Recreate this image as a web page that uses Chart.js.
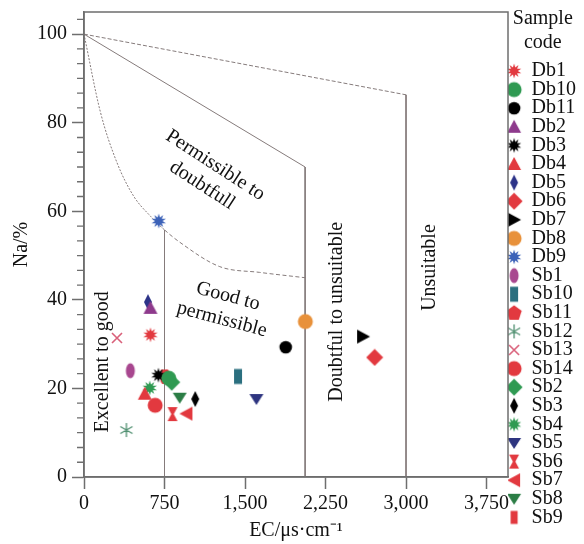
<!DOCTYPE html>
<html>
<head>
<meta charset="utf-8">
<script src="https://cdn.jsdelivr.net/npm/chart.js@4.4.1/dist/chart.umd.min.js"></script>
<style>
html,body{margin:0;padding:0;background:#fff;}
#wrap{width:584px;height:544px;}
</style>
</head>
<body>
<div id="wrap"><canvas id="myChart"></canvas></div>
<script>
// 샘플 코드 / EC(µs/cm) / Na(%)
const sampleCodes = ['Db1','Db10','Db11','Db2','Db3','Db4','Db5','Db6','Db7','Db8','Db9',
  'Sb1','Sb10','Sb11','Sb12','Sb13','Sb14','Sb2','Sb3','Sb4','Sb5','Sb6','Sb7','Sb8','Sb9'];
const ecValues = [619, 790, 1879, 619, 693, 566, 596, 2708, 2600, 2062, 696,
  432, 1435, 770, 395, 307, 663, 817, 1036, 612, 1606, 825, 954, 892, 750];
const naValues = [32.1, 22.3, 29.3, 38.2, 23.0, 18.8, 39.5, 27.0, 31.7, 35.1, 57.8,
  24.0, 22.7, 22.6, 10.6, 31.4, 16.2, 21.4, 17.6, 20.1, 17.6, 14.2, 14.3, 17.9, 22.8];

// Wilcox 경계선
const topLineX = [0, 3000, 3000];
const topLineY = [100, 86.3, 0];
const midLineX = [0, 2060, 2060];
const midLineY = [100, 70, 0];
const curveX = [0, 153, 307, 463, 619, 750, 893, 1265, 1637, 2060];
const curveY = [100, 82.4, 71, 63.4, 58.9, 55.8, 53, 47.5, 46.2, 45];
const sepX = [750, 750];
const sepY = [0, 55.8];

// 구역 이름
const zoneText = [
  ['Permissible to', 'doubtfull'],
  ['Good to', 'permissible'],
  ['Excellent to good'],
  ['Doubtful to unsuitable'],
  ['Unsuitable']
];
const zoneX = [1162, 1313, 174, 2354, 3220];
const zoneY = [68.1, 38.2, 26.0, 37.3, 47.3];
const zoneAngle = [33, 15, -90, -90, -90];

// 마커 모양/색
const red = '#e2393f', green = '#2f9a52';
const markerStyle = [
  ['burst', red], ['circle', green], ['circleS', '#000'], ['tri', '#8e3a8c'], ['burst', '#000'],
  ['tri', red], ['diamondT', '#2c3388'], ['diamond', red], ['triR', '#000'], ['circle', '#e8913a'],
  ['burst', '#3c62b8'], ['ellipse', '#a8478f'], ['rectT', '#2b6f7f'], ['penta', red], ['aster', '#4f8f70'],
  ['cross', '#d9607a'], ['circle', red], ['diamond', green], ['diamondT', '#000'], ['burst', green],
  ['triD', '#2e3580'], ['hour', red], ['triL', red], ['triD', '#2b7d45'], ['rectN', red]
];

function poly(g, pts){
  g.beginPath();
  pts.forEach((p,i)=> i ? g.lineTo(p[0],p[1]) : g.moveTo(p[0],p[1]));
  g.closePath(); g.fill();
}

function marker(shape, color){
  const c = document.createElement('canvas');
  c.width = 18; c.height = 18;
  const g = c.getContext('2d');
  g.fillStyle = color; g.strokeStyle = color;
  g.translate(9, 9);
  switch(shape){
    case 'circle': g.beginPath(); g.arc(0,0,7.5,0,Math.PI*2); g.fill(); break;
    case 'circleS': g.beginPath(); g.arc(0,0,6.3,0,Math.PI*2); g.fill(); break;
    case 'ellipse': g.beginPath(); g.ellipse(0,0,4.5,7.5,0,0,Math.PI*2); g.fill(); break;
    case 'tri': poly(g, [[0,-7],[7,6],[-7,6]]); break;
    case 'triD': poly(g, [[-7,-5],[7,-5],[0,6]]); break;
    case 'triR': poly(g, [[-6,-7],[7,0],[-6,7]]); break;
    case 'triL': poly(g, [[6,-7],[-7,0],[6,7]]); break;
    case 'diamond': poly(g, [[0,-8.5],[8.5,0],[0,8.5],[-8.5,0]]); break;
    case 'diamondT': poly(g, [[0,-8],[4,0],[0,8],[-4,0]]); break;
    case 'rectT': g.fillRect(-4,-7.5,8,15); break;
    case 'rectN': g.fillRect(-3.5,-6.5,7,13); break;
    case 'hour': poly(g, [[-5,-7],[5,-7],[1.2,0],[5,7],[-5,7],[-1.2,0]]); break;
    case 'penta': {
      const pts = [];
      for(let i=0;i<5;i++){ const a = -Math.PI/2 + i*2*Math.PI/5; pts.push([8*Math.cos(a), 8*Math.sin(a)+0.5]); }
      poly(g, pts); break;
    }
    case 'burst': {
      const pts = [];
      for(let i=0;i<20;i++){ const a = -Math.PI/2 + i*Math.PI/10; const r = i%2 ? 3.8 : 7.5; pts.push([r*Math.cos(a), r*Math.sin(a)]); }
      poly(g, pts); break;
    }
    case 'aster': {
      g.lineWidth = 1.3; g.beginPath();
      for(let i=0;i<6;i++){ const a = -Math.PI/2 + i*Math.PI/3; g.moveTo(0,0); g.lineTo(7*Math.cos(a), 7*Math.sin(a)); }
      g.stroke(); break;
    }
    case 'cross': {
      g.lineWidth = 1.6; g.beginPath();
      g.moveTo(-5,-5); g.lineTo(5,5); g.moveTo(5,-5); g.lineTo(-5,5); g.stroke(); break;
    }
  }
  return c;
}

const pointSets = sampleCodes.map((code,i)=>({
  label: code,
  data: [{x: ecValues[i], y: naValues[i]}],
  pointStyle: marker(markerStyle[i][0], markerStyle[i][1]),
  pointRadius: 8,
  order: 0
}));

const lineColor = '#857b7b';
function lineSet(xs, ys, extra){
  return Object.assign({
    label: '_line',
    data: xs.map((x,i)=>({x: x, y: ys[i]})),
    showLine: true,
    pointRadius: 0,
    borderColor: lineColor,
    borderWidth: 1,
    tension: 0,
    order: 10
  }, extra || {});
}

const lineSets = [
  lineSet(topLineX, topLineY, {segment: {borderDash: c => c.p0.parsed.x === c.p1.parsed.x ? [] : [4, 2]}}),
  lineSet(midLineX, midLineY),
  lineSet(curveX, curveY, {cubicInterpolationMode: 'monotone', segment: {borderDash: c => c.p0.parsed.x < 750 ? [2, 1.5] : [4, 2.5]}}),
  lineSet(sepX, sepY)
];

const serif = 'Liberation Serif';
const axisColor = '#6e6e6e';

const extras = {
  id: 'extras',
  afterDraw(chart){
    const {ctx, chartArea: a, scales: {x, y}} = chart;
    ctx.save();
    // 테두리
    ctx.strokeStyle = axisColor; ctx.lineWidth = 1.5;
    ctx.strokeRect(a.left, a.top, a.right - a.left, a.bottom - a.top);
    // y축 보조눈금
    ctx.lineWidth = 1.3; ctx.beginPath();
    for(let k=1;k<=31;k++){
      if(k%6===0) continue;
      const py = y.getPixelForValue(k*10/3);
      ctx.moveTo(a.left-7, py); ctx.lineTo(a.left, py);
    }
    ctx.stroke();
    // 구역 글자
    ctx.fillStyle = '#111';
    ctx.font = '20px "' + serif + '"';
    ctx.textAlign = 'center'; ctx.textBaseline = 'middle';
    zoneText.forEach((lines,i)=>{
      ctx.save();
      ctx.translate(x.getPixelForValue(zoneX[i]), y.getPixelForValue(zoneY[i]));
      ctx.rotate(zoneAngle[i]*Math.PI/180);
      lines.forEach((t,j)=> ctx.fillText(t, 0, (j-(lines.length-1)/2)*24));
      ctx.restore();
    });
    ctx.restore();
  }
};

const ctx = document.getElementById('myChart');
new Chart(ctx, {
  type: 'scatter',
  data: { datasets: pointSets.concat(lineSets) },
  options: {
    responsive: true,
    maintainAspectRatio: false,
    animation: false,
    events: [],
    layout: { padding: {top: 0, right: 6.4, bottom: 0, left: 0} },
    scales: {
      x: {
        type: 'linear', min: 0, max: 3950,
        afterFit: s => { s.height = 67; },
        afterBuildTicks: s => { s.ticks = [0, 750, 1500, 2250, 3000, 3750].map(v => ({value: v})); },
        ticks: { color: '#111', font: {family: serif, size: 20}, padding: 3, maxRotation: 0,
          callback: v => v.toLocaleString('en-US') },
        grid: { drawOnChartArea: false, tickLength: 12, color: axisColor, tickWidth: 1.5 },
        border: { color: axisColor, width: 1.5 },
        title: { display: true, text: 'EC/μs·cm⁻¹', color: '#111', font: {family: serif, size: 20}, padding: {top: 0, bottom: 1} }
      },
      y: {
        type: 'linear', min: 0, max: 105,
        afterFit: s => { s.width = 84; },
        afterBuildTicks: s => { s.ticks = [0, 20, 40, 60, 80, 100].map(v => ({value: v})); },
        ticks: { color: '#111', font: {family: serif, size: 20, lineHeight: 0.7}, padding: 5 },
        grid: { drawOnChartArea: false, tickLength: 12, color: axisColor, tickWidth: 1.5 },
        border: { color: axisColor, width: 1.5 },
        title: { display: true, text: 'Na/%', color: '#111', font: {family: serif, size: 20}, padding: {top: 10, bottom: 0} }
      }
    },
    plugins: {
      tooltip: { enabled: false },
      legend: {
        position: 'right',
        align: 'start',
        maxWidth: 69.6,
        title: { display: true, text: ['Sample', 'code'], color: '#111', position: 'center',
          font: {family: serif, size: 20, lineHeight: 1.2}, padding: {top: 9, bottom: 29.4} },
        labels: {
          usePointStyle: true,
          pointStyleWidth: 15,
          padding: -1.4,
          color: '#111',
          font: {family: serif, size: 20},
          filter: item => item.text !== '_line'
        }
      }
    }
  },
  plugins: [extras]
});
</script>
</body>
</html>
